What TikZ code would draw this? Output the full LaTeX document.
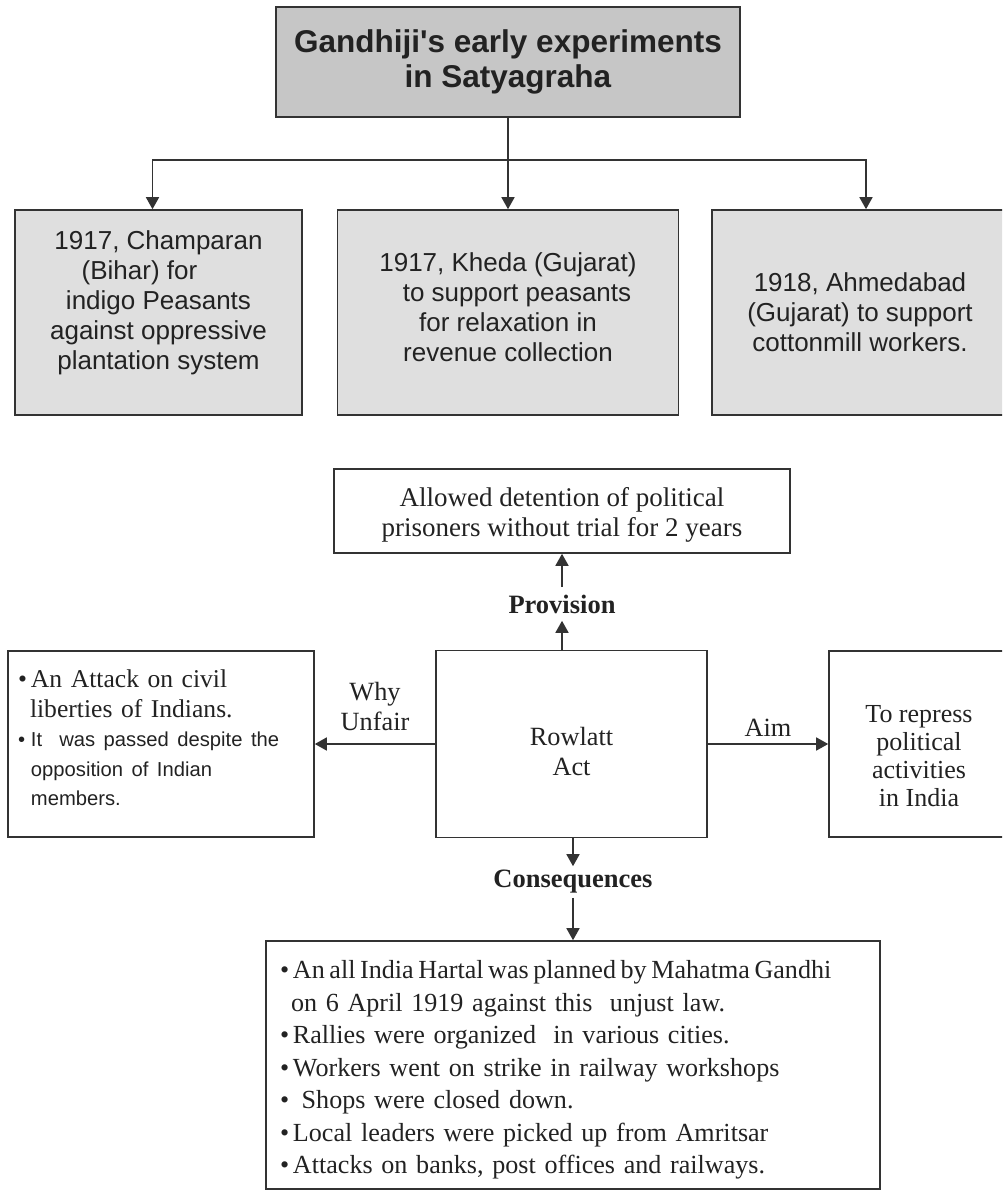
\documentclass[tikz,border=0pt]{standalone}
\usepackage{fontspec}
\setmainfont{Liberation Serif}
\newfontfamily\arialfont{Liberation Sans}
\usetikzlibrary{positioning, calc, arrows.meta}
\definecolor{linegray}{HTML}{333333}
\definecolor{textgray}{HTML}{222222}
\definecolor{headgray}{HTML}{C6C6C6}
\definecolor{cellgray}{HTML}{DFDFDF}
\newcommand{\bul}{\makebox[13pt][l]{\textbullet}}
\newcommand{\sanstext}[1]{{\arialfont\fontsize{20.2}{29.5}\selectfont #1}}

\begin{document}
\begin{tikzpicture}[x=1pt, y=-1pt, line width=1.6pt,
  box/.style={draw=linegray, rectangle, inner sep=0pt, align=center, text=textgray},
  boxtext/.style={inner sep=0pt, align=center, text=textgray},
  arr/.style={draw=linegray, -{Triangle[length=12pt,width=13pt]}},
  sansbig/.style={font=\arialfont\fontsize{26}{30}\selectfont},
  serif/.style={font=\fontsize{26.3}{30}\selectfont},
  lbl/.style={inner sep=0pt, text=textgray, font=\bfseries\fontsize{26.5}{30}\selectfont}]
\useasboundingbox (0,0) rectangle (1002,1191);
\clip (0,0) rectangle (1002,1191);

% early experiments
\node[box, fill=headgray, minimum width=464pt, minimum height=110pt, font=\arialfont\bfseries\fontsize{31.5}{35}\selectfont](satya) at (508,62) {Gandhiji\textquotesingle s early experiments\\in Satyagraha};

\node[box, fill=cellgray, minimum width=287pt, minimum height=205pt, label={[boxtext, sansbig, yshift=10pt]center:1917, Champaran\\(Bihar) for\rule{38pt}{0pt}\\indigo Peasants\\against oppressive\\plantation system}](champaran) at (158.5,312.5) {};
\node[box, fill=cellgray, minimum width=341pt, minimum height=205pt, label={[boxtext, sansbig, yshift=5pt]center:1917, Kheda (Gujarat)\\\rule{18pt}{0pt}to support peasants\\for relaxation in\\revenue collection}](kheda) at (508,312.5) {};
\node[box, fill=cellgray, sansbig, minimum width=296pt, minimum height=205pt](ahmedabad) at (860,312.5) {1918, Ahmedabad\\(Gujarat) to support\\cottonmill workers.};

\coordinate (split) at (508,160);
\draw[draw=linegray] (satya) -- (split);
\draw[arr] (split) -- (kheda);
\draw[arr] (split) -| ([xshift=-6pt]champaran.north);
\draw[arr] (split) -| ([xshift=6pt]ahmedabad.north);

% Rowlatt Act
\node[box, minimum width=271pt, minimum height=187pt, label={[boxtext, serif, yshift=-7pt]center:Rowlatt\\Act}](rowlatt) at (571.5,744) {};
\node[box, minimum width=456pt, minimum height=84pt, label={[boxtext, font=\fontsize{27}{30}\selectfont, yshift=-4pt]center:Allowed detention of political\\prisoners without trial for 2 years}](detention) at (562,511) {};
\node[lbl, minimum height=32pt](provision) at (562,604) {Provision};
\draw[arr] (rowlatt.north -| provision) -- (provision);
\draw[arr] (provision) -- (detention);

\node[box, minimum width=306pt, minimum height=186pt, label={[boxtext, align=left, text width=286pt, font=\fontsize{25.6}{29.5}\selectfont, yshift=6pt]center:\bul An Attack on civil\\\hspace*{12pt}liberties of Indians.\\\sanstext{\bul It\ \ was passed despite the}\\\sanstext{\hspace*{13pt}opposition of Indian}\\\sanstext{\hspace*{13pt}members.}}](unfair) at (161,744) {};
\node[box, minimum width=180pt, minimum height=186pt, label={[boxtext, font=\fontsize{26}{28}\selectfont, yshift=-12pt]center:To repress\\political\\activities\\in India}](repress) at (919,744) {};

\draw[arr] (rowlatt) -- node[above=12pt, boxtext, serif]{Why\\Unfair} (unfair);
\draw[arr] (rowlatt) -- node[above=7pt, boxtext, serif]{Aim} (repress);

\node[lbl, minimum height=30pt](conseq) at (573,882) {Consequences};
\draw[arr] (rowlatt.south -| conseq) -- (conseq);
\node[box, minimum width=614pt, minimum height=248pt, label={[boxtext, align=left, text width=586pt, font=\fontsize{26.1}{32.5}\selectfont, yshift=-5pt]center:{\spaceskip=4.6pt\bul An all India Hartal was planned by Mahatma Gandhi}\\
\hspace*{11pt}on 6 April 1919 against this\ \ unjust law.\\
\bul Rallies were organized\ \ in various cities.\\
\bul Workers went on strike in railway workshops\\
\bul\ Shops were closed down.\\
\bul Local leaders were picked up from Amritsar\\
\bul Attacks on banks, post offices and railways.}](impact) at (573,1065) {};
\draw[arr] (conseq) -- (impact);
\end{tikzpicture}
\end{document}
